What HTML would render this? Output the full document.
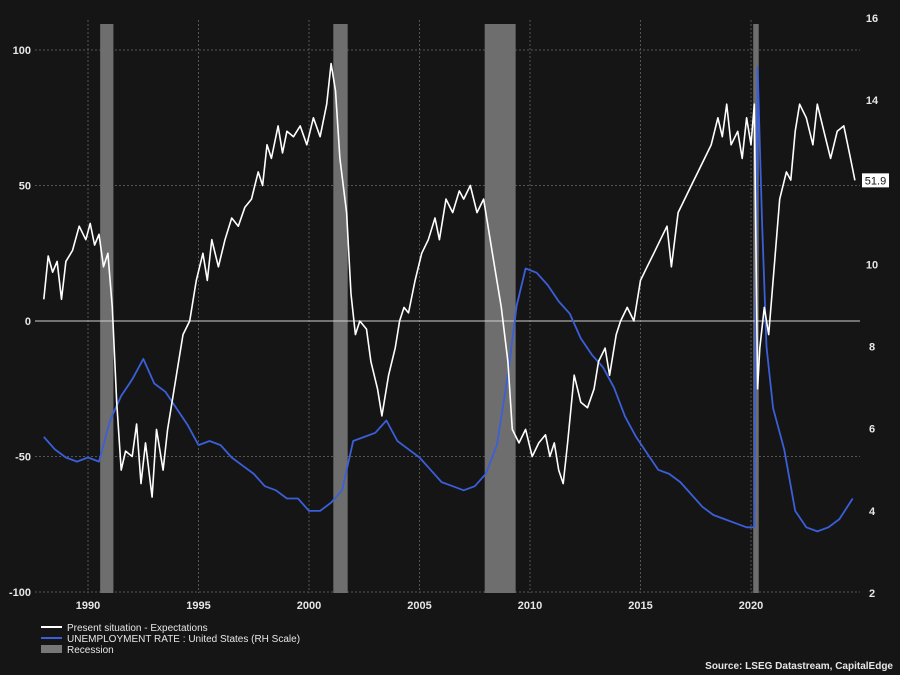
<!DOCTYPE html>
<html><head><meta charset="utf-8"><style>
html,body{margin:0;padding:0;background:#151515;}
svg{display:block;font-family:"Liberation Sans",Arial,sans-serif;}
</style></head><body>
<svg width="900" height="675" viewBox="0 0 900 675">
<rect width="900" height="675" fill="#151515"/>
<g id="grid"></g>
<g id="rec"></g>
<g id="axes"></g>
<g id="series"></g>
<g>
<line x1="41" y1="627" x2="62" y2="627" stroke="#ffffff" stroke-width="2"/>
<text x="67" y="631" fill="#e6e6e6" font-size="10">Present situation - Expectations</text>
<line x1="41" y1="638" x2="62" y2="638" stroke="#3a5fd9" stroke-width="2"/>
<text x="67" y="642" fill="#e6e6e6" font-size="10">UNEMPLOYMENT RATE : United States (RH Scale)</text>
<rect x="41" y="645" width="21" height="8" fill="#777"/>
<text x="67" y="653" fill="#e6e6e6" font-size="10">Recession</text>
</g>
<text x="893" y="669" text-anchor="end" fill="#e6e6e6" font-size="10" font-weight="bold">Source: LSEG Datastream, CapitalEdge</text>
</svg>
<script>
const leftTicks=[100,50,0,-50,-100];
const rightTicks=[16,14,12,10,8,6,4,2];
const yearTicks=[1990,1995,2000,2005,2010,2015,2020];
const recessions=[[1990.55,1991.15],[2001.1,2001.75],[2007.95,2009.35],[2020.1,2020.35]];
const expYears=[1988.0,1988.2,1988.4,1988.6,1988.8,1989.0,1989.3,1989.6,1989.9,1990.1,1990.3,1990.5,1990.7,1990.9,1991.0,1991.1,1991.3,1991.5,1991.7,1992.0,1992.2,1992.4,1992.6,1992.9,1993.1,1993.4,1993.6,1993.9,1994.1,1994.3,1994.6,1994.9,1995.2,1995.4,1995.6,1995.9,1996.2,1996.5,1996.8,1997.1,1997.4,1997.7,1997.9,1998.1,1998.3,1998.6,1998.8,1999.0,1999.3,1999.6,1999.9,2000.2,2000.5,2000.8,2001.0,2001.2,2001.4,2001.7,2001.9,2002.1,2002.3,2002.6,2002.8,2003.1,2003.3,2003.6,2003.9,2004.1,2004.3,2004.5,2004.8,2005.1,2005.4,2005.7,2005.9,2006.2,2006.5,2006.8,2007.0,2007.3,2007.6,2007.9,2008.1,2008.4,2008.7,2009.0,2009.2,2009.5,2009.8,2010.1,2010.4,2010.7,2010.9,2011.1,2011.3,2011.5,2011.7,2012.0,2012.3,2012.6,2012.9,2013.1,2013.4,2013.6,2013.9,2014.1,2014.4,2014.7,2015.0,2015.3,2015.6,2015.9,2016.2,2016.4,2016.7,2017.0,2017.3,2017.6,2017.9,2018.2,2018.5,2018.7,2018.9,2019.1,2019.4,2019.6,2019.8,2020.0,2020.15,2020.3,2020.4,2020.6,2020.8,2021.0,2021.3,2021.6,2021.8,2022.0,2022.2,2022.5,2022.8,2023.0,2023.3,2023.6,2023.9,2024.2,2024.5,2024.7];
const expValues=[8,24,18,22,8,22,26,35,30,36,28,32,20,25,15,5,-30,-55,-48,-50,-38,-60,-45,-65,-40,-55,-40,-25,-15,-5,0,15,25,15,30,20,30,38,35,42,45,55,50,65,60,72,62,70,68,72,65,75,68,80,95,85,60,40,10,-5,0,-3,-15,-25,-35,-20,-10,0,5,3,15,25,30,38,30,45,40,48,45,50,40,45,35,20,5,-15,-40,-45,-40,-50,-45,-42,-50,-45,-55,-60,-45,-20,-30,-32,-25,-15,-10,-20,-5,0,5,0,15,20,25,30,35,20,40,45,50,55,60,65,75,68,80,65,70,60,75,65,80,-25,-10,5,-5,15,45,55,52,70,80,75,65,80,70,60,70,72,60,51.9];
const unYears=[1988.0,1988.5,1989.0,1989.5,1990.0,1990.5,1991.0,1991.5,1992.0,1992.5,1993.0,1993.5,1994.0,1994.5,1995.0,1995.5,1996.0,1996.5,1997.0,1997.5,1998.0,1998.5,1999.0,1999.5,2000.0,2000.5,2001.0,2001.5,2002.0,2002.5,2003.0,2003.5,2004.0,2004.5,2005.0,2005.5,2006.0,2006.5,2007.0,2007.5,2008.0,2008.5,2009.0,2009.4,2009.8,2010.3,2010.8,2011.3,2011.8,2012.3,2012.8,2013.3,2013.8,2014.3,2014.8,2015.3,2015.8,2016.3,2016.8,2017.3,2017.8,2018.3,2018.8,2019.3,2019.8,2020.15,2020.3,2020.5,2020.7,2021.0,2021.5,2022.0,2022.5,2023.0,2023.5,2024.0,2024.6];
const unValues=[5.8,5.5,5.3,5.2,5.3,5.2,6.2,6.8,7.2,7.7,7.1,6.9,6.5,6.1,5.6,5.7,5.6,5.3,5.1,4.9,4.6,4.5,4.3,4.3,4.0,4.0,4.2,4.5,5.7,5.8,5.9,6.2,5.7,5.5,5.3,5.0,4.7,4.6,4.5,4.6,4.9,5.6,7.3,9.0,9.9,9.8,9.5,9.1,8.8,8.2,7.8,7.5,7.0,6.3,5.8,5.4,5.0,4.9,4.7,4.4,4.1,3.9,3.8,3.7,3.6,3.6,14.8,11,8,6.5,5.5,4.0,3.6,3.5,3.6,3.8,4.3];

const NS='http://www.w3.org/2000/svg';
const PL=35,PR=860,PT=20,PB=593;
function xS(yr){return 88+(yr-1990)*22.1;}
function yL(v){return 321-v*2.71;}
function yR(v){return 593-(v-2)*41.07;}
function mk(tag,attrs,parent){const e=document.createElementNS(NS,tag);for(const k in attrs)e.setAttribute(k,attrs[k]);parent.appendChild(e);return e;}
const grid=document.getElementById('grid'),rec=document.getElementById('rec'),axes=document.getElementById('axes'),ser=document.getElementById('series');

leftTicks.forEach(v=>{
  if(v!==0){const l=mk('line',{x1:PL,x2:PR,y1:yL(v),y2:yL(v),stroke:'#555','stroke-dasharray':'2,2','stroke-width':1},grid);
  
  }
  const t=mk('text',{x:31,y:yL(v)+4,'text-anchor':'end',fill:'#e6e6e6','font-size':11,'font-weight':'bold'},axes);
  t.textContent=v;
  
  
});
yearTicks.forEach(yr=>{
  const l=mk('line',{x1:xS(yr),x2:xS(yr),y1:PT,y2:PB,stroke:'#555','stroke-dasharray':'2,2','stroke-width':1},grid);
  
  
  const t=mk('text',{x:xS(yr),y:609,'text-anchor':'middle',fill:'#e6e6e6','font-size':11,'font-weight':'bold'},axes);
  t.textContent=yr;
  
  
});
rightTicks.forEach(v=>{
  const t=mk('text',{x:872,y:yR(v)+4,'text-anchor':'middle',fill:'#e6e6e6','font-size':11,'font-weight':'bold'},axes);
  t.textContent=v;
  
  
});
recessions.forEach(r=>{
  const b=mk('rect',{x:xS(r[0]),y:24,width:xS(r[1])-xS(r[0]),height:PB-24,fill:'#6e6e6e'},rec);
  
  
});
const z=mk('line',{x1:PL,x2:PR,y1:yL(0),y2:yL(0),stroke:'#cfcfcf','stroke-width':1},axes);



const bp=mk('polyline',{points:unYears.map((y,i)=>xS(y).toFixed(1)+','+yR(unValues[i]).toFixed(1)).join(' '),fill:'none',stroke:'#3a5fd9','stroke-width':1.8,'stroke-linejoin':'round'},ser);


const wp=mk('polyline',{points:expYears.map((y,i)=>xS(y).toFixed(1)+','+yL(expValues[i]).toFixed(1)).join(' '),fill:'none',stroke:'#ffffff','stroke-width':1.6,'stroke-linejoin':'round'},ser);



const lastV=expValues[expValues.length-1];
const lb=mk('rect',{x:862,y:yL(lastV)-7,width:27,height:14,fill:'#ffffff'},ser);


const lt=mk('text',{x:875.5,y:yL(lastV)+4,'text-anchor':'middle',fill:'#111','font-size':11},ser);
lt.textContent=lastV.toFixed(1);


</script>
</body></html>
